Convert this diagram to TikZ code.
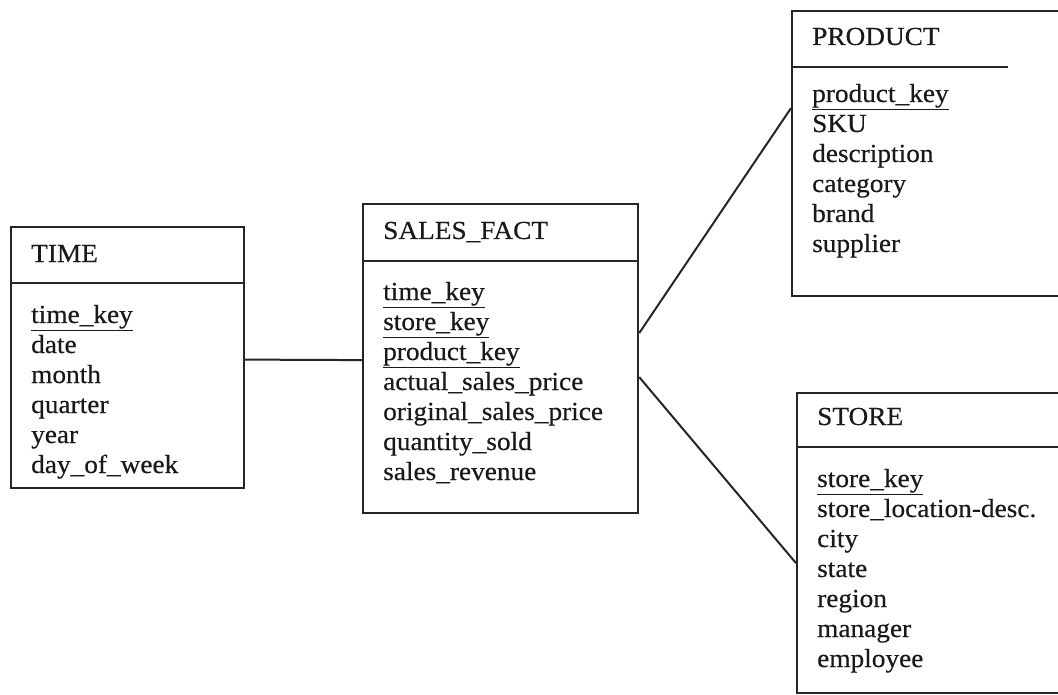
\documentclass[tikz,border=0pt]{standalone}
\usepackage{fontspec}
\setmainfont[FakeStretch=1.05, FakeBold=0.4]{Liberation Serif}
\begin{document}
\begin{tikzpicture}[x=1pt,y=-1pt,
  tbl/.style={draw=black!85, line width=2.2pt, rectangle, inner sep=0pt, anchor=north west},
  rule/.style={draw=black!85, line width=2.2pt},
  link/.style={draw=black!85, line width=2pt},
  txt/.style={inner sep=0pt, anchor=base west, font=\fontsize{26}{30}\selectfont, text=black!90}]
\path[use as bounding box, clip] (0,0) rectangle (1058,695);
% boxes
\node[tbl, minimum width=233pt, minimum height=261pt] (time) at (10,226) {};
\node[tbl, minimum width=275pt, minimum height=309pt] (sales) at (362,203) {};
\node[tbl, minimum width=290pt, minimum height=285pt] (product) at (791,10) {};
\node[tbl, minimum width=290pt, minimum height=300pt] (store) at (796,392) {};
% dividers
\draw[rule] (time.west |- 0,283) -- (time.east |- 0,283);
\draw[rule] (sales.west |- 0,261) -- (sales.east |- 0,261);
\draw[rule] (product.west |- 0,67) -- (1008,67);
\draw[rule] (store.west |- 0,447) -- (store.east |- 0,447);
% titles
\node[txt] (time-title) at (31,262) {TIME};
\node[txt] (sales-title) at (383,239) {SALES\_FACT};
\node[txt] (product-title) at (812,45) {PRODUCT};
\node[txt] (store-title) at (817,425) {STORE};
% attributes
\foreach \t [count=\i] in {\underline{time\_key}, date, month, quarter, year, day\_of\_week}
  \node[txt] (time-\i) at (31,{323+30*(\i-1)}) {\t};
\foreach \t [count=\i] in {\underline{time\_key}, \underline{store\_key}, \underline{product\_key}, actual\_sales\_price, original\_sales\_price, quantity\_sold, sales\_revenue}
  \node[txt] (sales-\i) at (383,{300+30*(\i-1)}) {\t};
\foreach \t [count=\i] in {\underline{product\_key}, SKU, description, category, brand, supplier}
  \node[txt] (product-\i) at (812,{102+30*(\i-1)}) {\t};
\foreach \t [count=\i] in {\underline{store\_key}, store\_location-desc., city, state, region, manager, employee}
  \node[txt] (store-\i) at (817,{487+30*(\i-1)}) {\t};
% connectors
\draw[link] ([yshift=-2pt]time.east) -- ([yshift=-1.5pt]sales.west);
\draw[link] ([yshift=25.5pt]sales.east) -- ([yshift=45.5pt]product.west);
\draw[link] ([yshift=-18.5pt]sales.east) -- ([yshift=-20pt]store.west);
\end{tikzpicture}
\end{document}
